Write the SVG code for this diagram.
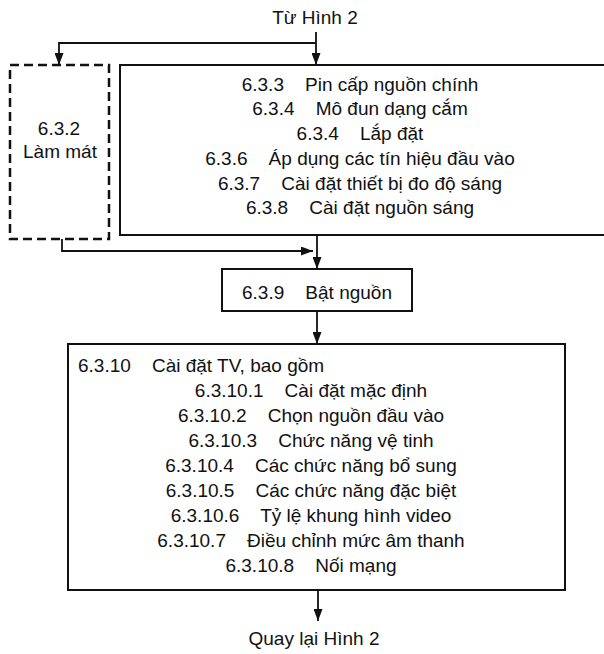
<svg xmlns="http://www.w3.org/2000/svg" width="604" height="654" viewBox="0 0 604 654">
<style>
  .t { font-family: "Liberation Sans", Arial, sans-serif; font-size: 19px; fill: #111; }
  .m { text-anchor: middle; }
  .box { fill: #fff; stroke: #111; stroke-width: 2; }
  .dash { fill: #fff; stroke: #111; stroke-width: 2.5; stroke-dasharray: 9 5; }
  .ln { fill: none; stroke: #111; stroke-width: 1.8; }
</style>
<defs>
  <marker id="arr" viewBox="0 0 12 9" markerWidth="12" markerHeight="9" refX="12" refY="4.5" orient="auto" markerUnits="userSpaceOnUse">
    <path d="M0,0 L12,4.5 L0,9 z" fill="#111"/>
  </marker>
</defs>
<rect width="604" height="654" fill="#fff"/>

<g id="connectors">
  <line class="ln" x1="316" y1="32" x2="316" y2="65" marker-end="url(#arr)"/>
  <polyline class="ln" points="316,43 59,43 59,65" marker-end="url(#arr)"/>
  <polyline class="ln" points="62,239 62,251 313,251" marker-end="url(#arr)"/>
  <line class="ln" x1="317" y1="235" x2="317" y2="269" marker-end="url(#arr)"/>
  <line class="ln" x1="317" y1="311" x2="317" y2="344" marker-end="url(#arr)"/>
  <line class="ln" x1="318" y1="590" x2="318" y2="621" marker-end="url(#arr)"/>
</g>

<g id="start">
  <text class="t m" x="315" y="24">Từ Hình 2</text>
</g>

<g id="cooling">
  <rect class="dash" x="10" y="65" width="99" height="174"/>
  <text class="t m" x="59" y="135">6.3.2</text>
  <text class="t m" x="60" y="158">Làm mát</text>
</g>

<g id="main">
  <rect class="box" x="120" y="65" width="500" height="170"/>
  <text class="t m" x="360" y="91">6.3.3&#160;&#160;&#160; Pin cấp nguồn chính</text>
  <text class="t m" x="360" y="115">6.3.4&#160;&#160;&#160; Mô đun dạng cắm</text>
  <text class="t m" x="360" y="140">6.3.4&#160;&#160;&#160; Lắp đặt</text>
  <text class="t m" x="360" y="165">6.3.6&#160;&#160;&#160; Áp dụng các tín hiệu đầu vào</text>
  <text class="t m" x="360" y="190">6.3.7&#160;&#160;&#160; Cài đặt thiết bị đo độ sáng</text>
  <text class="t m" x="360" y="214">6.3.8&#160;&#160;&#160; Cài đặt nguồn sáng</text>
</g>

<g id="power">
  <rect class="box" x="222" y="269" width="190" height="42"/>
  <text class="t m" x="317" y="299">6.3.9&#160;&#160;&#160; Bật nguồn</text>
</g>

<g id="setup">
  <rect class="box" x="68" y="344" width="497" height="246"/>
  <text class="t" x="78" y="372">6.3.10&#160;&#160;&#160; Cài đặt TV, bao gồm</text>
  <text class="t m" x="311" y="397">6.3.10.1&#160;&#160;&#160; Cài đặt mặc định</text>
  <text class="t m" x="311" y="422">6.3.10.2&#160;&#160;&#160; Chọn nguồn đầu vào</text>
  <text class="t m" x="311" y="447">6.3.10.3&#160;&#160;&#160; Chức năng vệ tinh</text>
  <text class="t m" x="311" y="472">6.3.10.4&#160;&#160;&#160; Các chức năng bổ sung</text>
  <text class="t m" x="311" y="497">6.3.10.5&#160;&#160;&#160; Các chức năng đặc biệt</text>
  <text class="t m" x="311" y="522">6.3.10.6&#160;&#160;&#160; Tỷ lệ khung hình video</text>
  <text class="t m" x="311" y="547">6.3.10.7&#160;&#160;&#160; Điều chỉnh mức âm thanh</text>
  <text class="t m" x="311" y="572">6.3.10.8&#160;&#160;&#160; Nối mạng</text>
</g>

<g id="end">
  <text class="t m" x="314" y="645">Quay lại Hình 2</text>
</g>
</svg>
